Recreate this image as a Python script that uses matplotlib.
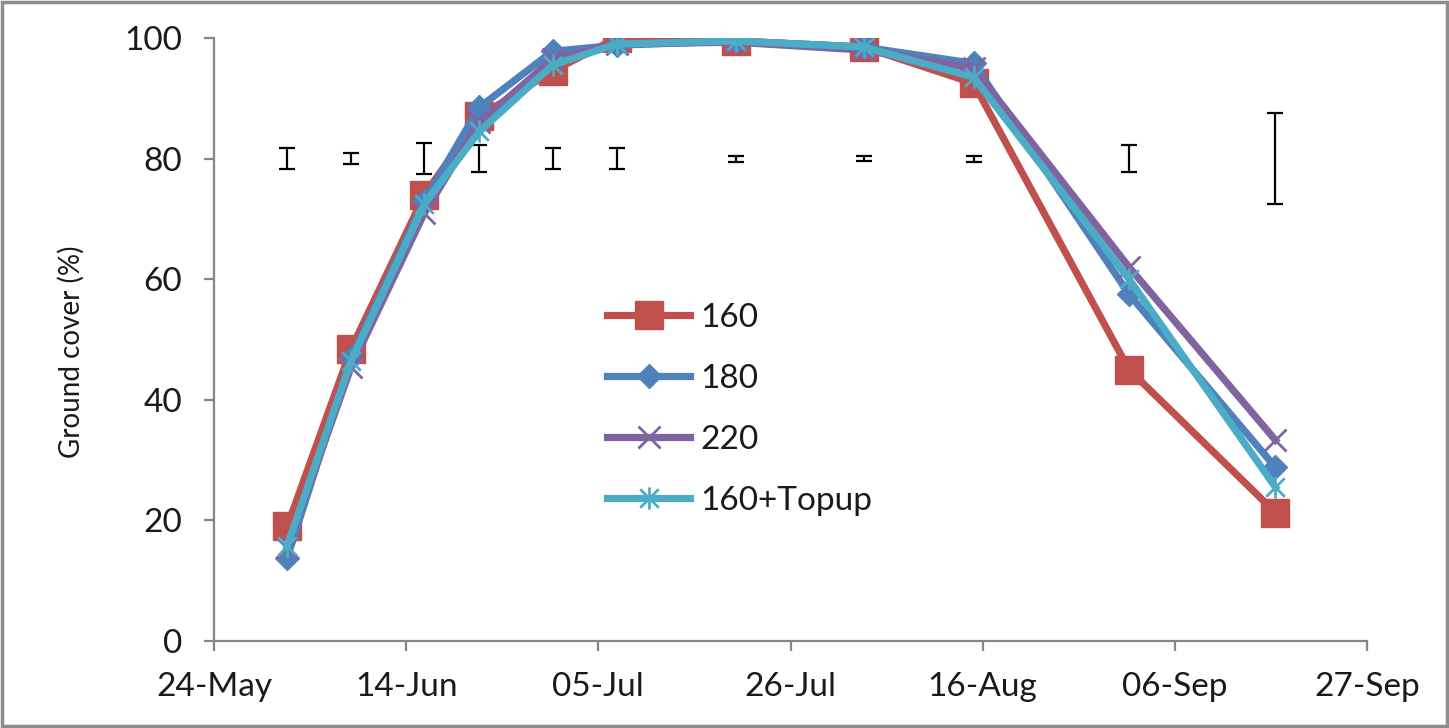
import numpy as np
import matplotlib
matplotlib.use('Agg')
import matplotlib.pyplot as plt
from matplotlib.path import Path
from matplotlib.patches import Rectangle
from datetime import datetime, timedelta

plt.rcParams['font.family'] = ['Lato', 'DejaVu Sans']

# sampling dates and ground cover (%) for each nitrogen treatment
dates = ['2010-06-01', '2010-06-08', '2010-06-16', '2010-06-22', '2010-06-30', '2010-07-07',
         '2010-07-20', '2010-08-03', '2010-08-15', '2010-09-01', '2010-09-17']
n160 = [19.0, 48.5, 74.0, 87.0, 94.5, 100.0, 99.5, 98.5, 92.5, 45.0, 21.3]
n180 = [13.8, 47.0, 73.0, 88.5, 97.8, 98.8, 99.5, 98.5, 95.8, 57.5, 28.8]
n220 = [15.5, 45.5, 71.0, 86.0, 96.5, 99.0, 99.3, 98.0, 95.0, 62.0, 33.3]
n160_topup = [15.8, 46.5, 72.5, 84.5, 95.5, 99.0, 99.5, 98.5, 93.5, 60.0, 25.5]

# LSD bars drawn at 80 %
lsd_y = 80
lsd_half = [1.8, 0.9, 2.6, 2.3, 1.8, 1.7, 0.5, 0.4, 0.5, 2.2, 7.5]

tick_labels = ['24-May', '14-Jun', '05-Jul', '26-Jul', '16-Aug', '06-Sep', '27-Sep']

x = [datetime.strptime(d, '%Y-%m-%d') for d in dates]
start = datetime(2010, 5, 24)
ticks = [start + timedelta(days=21 * i) for i in range(len(tick_labels))]

# Excel-style star: an x with a vertical bar through it
star = Path([(-1, -1), (1, 1), (-1, 1), (1, -1), (0, -1.2), (0, 1.2)],
            [Path.MOVETO, Path.LINETO, Path.MOVETO, Path.LINETO, Path.MOVETO, Path.LINETO])

fig = plt.figure(figsize=(14.49, 7.28), dpi=100)
ax = fig.add_axes([214 / 1449, 1 - 641 / 728, (1367 - 214) / 1449, (641 - 38) / 728])

ax.errorbar(x, [lsd_y] * len(x), yerr=lsd_half, fmt='none', ecolor='black',
            elinewidth=1.6, capsize=6, capthick=1.6, zorder=2)

lw = 5.2
ax.plot(x, n160, color='#C0504D', lw=lw, marker='s', markersize=20,
        markerfacecolor='#C0504D', markeredgecolor='#C0504D', label='160', zorder=3)
ax.plot(x, n180, color='#4F81BD', lw=lw, marker='D', markersize=12.5,
        markerfacecolor='#4F81BD', markeredgecolor='#4F81BD', label='180', zorder=4)
ax.plot(x, n220, color='#8064A2', lw=lw, marker='x', markersize=16, markeredgewidth=2,
        markeredgecolor='#8064A2', label='220', zorder=5)
ax.plot(x, n160_topup, color='#4BACC6', lw=lw, marker=star, markersize=16, markeredgewidth=2,
        markeredgecolor='#4BACC6', label='160+Topup', zorder=6)

ax.set_xlim(ticks[0], ticks[-1])
ax.set_ylim(0, 100)
ax.set_xticks(ticks)
ax.set_xticklabels(tick_labels)
ax.set_yticks(np.arange(0, 101, 20))

for side in ['top', 'right']:
    ax.spines[side].set_visible(False)
for side in ['left', 'bottom']:
    ax.spines[side].set_color('#868686')
    ax.spines[side].set_linewidth(1.6)
ax.tick_params(axis='both', direction='out', color='#868686', width=1.6, length=7,
               labelsize=24, labelcolor='#1a1a1a')
ax.tick_params(axis='y', pad=16)
ax.tick_params(axis='x', pad=15)

ax.set_ylabel('Ground cover (%)', fontsize=20, color='#1a1a1a')
ax.yaxis.set_label_coords(-0.112, 0.48)

leg = fig.legend(loc='upper left', bbox_to_anchor=(607 / 1449, 1 - 303 / 728), frameon=False,
                 fontsize=24, handlelength=2.5, handletextpad=0.3, labelspacing=0.93,
                 borderpad=0, borderaxespad=0)
for t in leg.get_texts():
    t.set_color('#1a1a1a')

fig.patches.append(Rectangle((0.0015, 0.003), 0.997, 0.994, transform=fig.transFigure,
                             fill=False, edgecolor='#8c8c8c', lw=2.5))

fig.savefig('out.png', dpi=100)
